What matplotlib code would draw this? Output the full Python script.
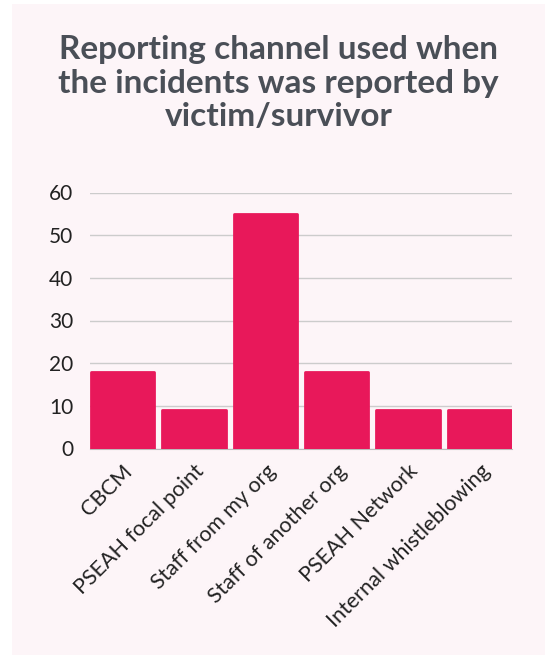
import matplotlib
matplotlib.use("Agg")
import matplotlib.pyplot as plt
from matplotlib.patches import Rectangle

categories = ["CBCM", "PSEAH focal point", "Staff from my org", "Staff of another org",
              "PSEAH Network", "Internal whistleblowing"]
values = [18, 9, 55, 18, 9, 9]
yticks = [0, 10, 20, 30, 40, 50, 60]
title = "Reporting channel used when\nthe incidents was reported by\nvictim/survivor"

W, H = 545, 659
fig = plt.figure(figsize=(W / 100, H / 100), dpi=100, facecolor="white")
bg = "#fdf5f8"
fig.patches.append(Rectangle((12 / W, 4 / H), (W - 12) / W, (H - 8) / H,
                             transform=fig.transFigure, facecolor=bg, edgecolor="none", zorder=-10))

ax = fig.add_axes([90 / W, 1 - 448.5 / H, (512 - 90) / W, (448.5 - 192.5) / H])
ax.set_zorder(5)
ax.set_facecolor(bg)
x = list(range(len(categories)))
ax.bar(x, values, width=0.89, color="#e8185a", edgecolor="#e8185a", linewidth=2,
       joinstyle="round", zorder=3)
ax.set_xlim(-0.455, len(categories) - 0.545)
ax.set_ylim(0, 60)
ax.set_yticks(yticks)
ax.grid(axis="y", color="#cccccc", linewidth=1, zorder=0)
for s in ["top", "right", "left"]:
    ax.spines[s].set_visible(False)
ax.spines["bottom"].set_color("#bbbbbb")
ax.tick_params(axis="both", length=0)
ax.tick_params(axis="y", pad=12)
ax.set_yticklabels([str(t) for t in yticks], fontsize=15, color="#222222", family="Lato")
ax.set_xticks(x)
ax.set_xticklabels(categories, rotation=45, ha="right", rotation_mode="anchor",
                   fontsize=15.5, color="#222222", family="Lato")
ax.tick_params(axis="x", pad=9)

fig.text(0.5 + 6 / W, 1 - 83 / H, title, ha="center", va="center", fontsize=24,
         fontweight="bold", color="#4a4f57", family="Lato", linespacing=1.2)

fig.savefig("out.png", dpi=100, facecolor="white")
